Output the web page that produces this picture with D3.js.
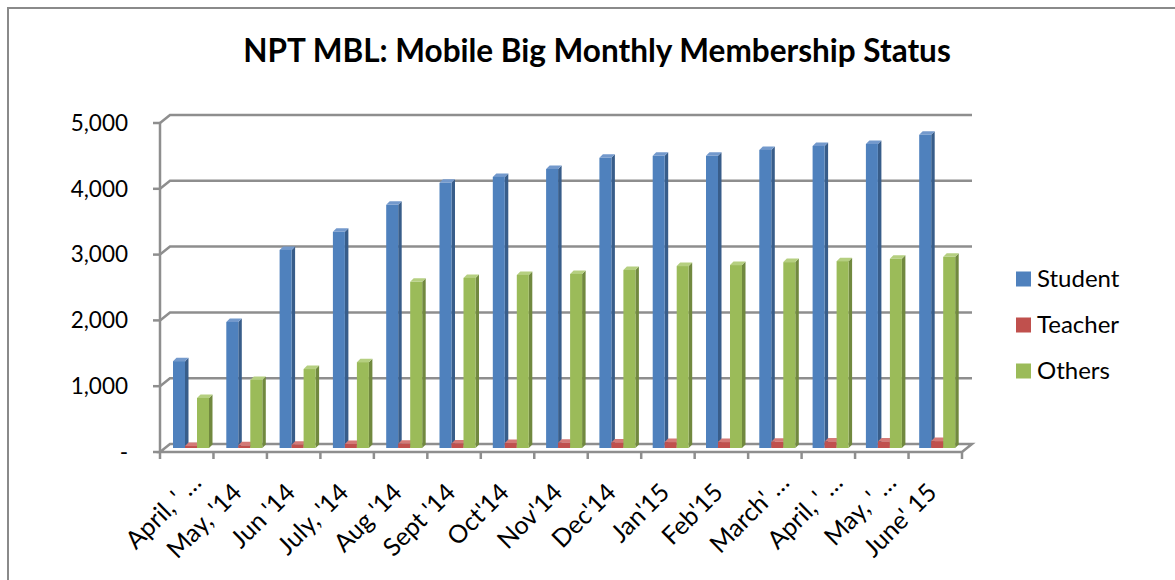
<!DOCTYPE html>
<html>
<head>
<meta charset="utf-8">
<script src="https://cdn.jsdelivr.net/npm/d3@7"></script>
<style>
  body { margin: 0; background: #fff; }
  svg text { font-family: Lato, "Open Sans", sans-serif; fill: #000; }
</style>
</head>
<body>
<svg id="chart" width="1175" height="580"></svg>
<script>
// data
var months = ["April, ' \u2026", "May, '14", "Jun '14", "July, '14", "Aug '14", "Sept '14", "Oct'14",
    "Nov'14", "Dec'14", "Jan'15", "Feb'15", "March' \u2026", "April, ' \u2026", "May, ' \u2026", "June' 15"];
var seriesNames = ["Student", "Teacher", "Others"];
var student = [1320, 1915, 3010, 3285, 3695, 4030, 4120, 4240, 4410, 4440, 4440, 4530, 4590, 4620, 4760];
var teacher = [30, 40, 50, 60, 65, 70, 75, 80, 85, 90, 90, 95, 100, 100, 105];
var others = [760, 1035, 1200, 1305, 2525, 2585, 2630, 2645, 2705, 2765, 2780, 2825, 2840, 2875, 2905];
var yTicks = [0, 1000, 2000, 3000, 4000, 5000];

var colours = {
    "Student": { front: "#4f81bd", side: "#385d8a", top: "#7399cc" },
    "Teacher": { front: "#c0504d", side: "#8c3836", top: "#d47a77" },
    "Others": { front: "#9bbb59", side: "#71893f", top: "#b5cf80" }
}
var values = { "Student": student, "Teacher": teacher, "Others": others };

var svg = d3.select("#chart");
var gridCol = "#8e8e8e";

// chart border
svg.append("rect")
    .attr("x", 8).attr("y", 8).attr("width", 1200).attr("height", 620)
    .attr("fill", "none").attr("stroke", "#8a8a8a").attr("stroke-width", 2);

// title
svg.append("text")
    .attr("x", 597).attr("y", 62)
    .attr("text-anchor", "middle")
    .style("font-weight", "bold").style("font-size", "31.5px")
    .text("NPT MBL: Mobile Big Monthly Membership Status");

// 3D offsets (depth of the walls)
var dx = 10, dy = -8;

// two months share the label "April, ' …" so the band scales work on indices
var idx = d3.range(months.length);
var x = d3.scaleBand().domain(idx).range([160, 962]);
var xBar = d3.scaleBand().domain(idx).range([159, 958.5]);
var xs = d3.scaleBand().domain(seriesNames).range([14, 50]);
var yFront = d3.scaleLinear().domain([0, 5000]).range([452, 123]);
var yBar = d3.scaleLinear().domain([0, 5000]).range([448, 119]);

// floor
var x0 = x.range()[0], x1 = x.range()[1];
svg.append("path")
    .attr("d", "M" + x0 + "," + yFront(0) + "L" + x1 + "," + yFront(0) +
        "L" + (x1 + dx) + "," + (yFront(0) + dy) + "L" + (x0 + dx) + "," + (yFront(0) + dy) + "Z")
    .attr("fill", "#fff").attr("stroke", gridCol).attr("stroke-width", 2.5);

// gridlines on back wall + side wall diagonals
yTicks.forEach(function (t) {
    var yf = yFront(t);
    if (t > 0) {
        svg.append("path")
            .attr("d", "M" + x0 + "," + yf + "L" + (x0 + dx) + "," + (yf + dy) + "L" + (x1 + dx) + "," + (yf + dy))
            .attr("fill", "none").attr("stroke", gridCol).attr("stroke-width", 2.5);
    }
    svg.append("line")
        .attr("x1", x0 - 7).attr("x2", x0).attr("y1", yf).attr("y2", yf)
        .attr("stroke", gridCol).attr("stroke-width", 2.5);
    svg.append("text")
        .attr("x", 128).attr("y", yf)
        .attr("dy", "0.35em")
        .attr("text-anchor", "end")
        .style("font-size", "22.5px")
        .text(t == 0 ? "-" : d3.format(",")(t));
});

// front vertical axis
svg.append("line")
    .attr("x1", x0).attr("x2", x0).attr("y1", yFront(5000)).attr("y2", yFront(0))
    .attr("stroke", gridCol).attr("stroke-width", 2.5);

// category ticks
var bounds = idx.map(function (i) { return x(i) }).concat([x1]);
svg.selectAll(".xtick")
    .data(bounds)
    .enter()
    .append("line")
    .attr("x1", function (d) { return d }).attr("x2", function (d) { return d })
    .attr("y1", yFront(0)).attr("y2", yFront(0) + 7)
    .attr("stroke", gridCol).attr("stroke-width", 2.5);

// bars, drawn as front + side + top faces
var bd = 3.5;
idx.forEach(function (i) {
    seriesNames.forEach(function (s) {
        var v = values[s][i];
        var bx = xBar(i) + xs(s), bw = xs.bandwidth();
        var yt = yBar(v), yb = yBar(0);
        var c = colours[s];
        svg.append("path")
            .attr("d", "M" + (bx + bw) + "," + yt + "L" + (bx + bw + bd) + "," + (yt - bd) +
                "L" + (bx + bw + bd) + "," + (yb - bd) + "L" + (bx + bw) + "," + yb + "Z")
            .attr("fill", c.side);
        svg.append("path")
            .attr("d", "M" + bx + "," + yt + "L" + (bx + bd) + "," + (yt - bd) +
                "L" + (bx + bw + bd) + "," + (yt - bd) + "L" + (bx + bw) + "," + yt + "Z")
            .attr("fill", c.top);
        svg.append("rect")
            .attr("x", bx).attr("y", yt).attr("width", bw).attr("height", yb - yt)
            .attr("fill", c.front);
    });
});

// category labels (the cut-off ones sit a little higher, like Excel does)
svg.selectAll(".xlabel")
    .data(idx)
    .enter()
    .append("text")
    .attr("text-anchor", "end")
    .style("font-size", "25px")
    .attr("transform", function (i) {
        var cut = months[i].indexOf("\u2026") >= 0;
        var lx = x(i) + x.bandwidth() / 2 + (cut ? 16 : 3);
        var ly = cut ? 484 : 494;
        return "translate(" + lx + "," + ly + ") rotate(-45)";
    })
    .text(function (i) { return months[i] });

// legend
var legend = svg.selectAll(".legend")
    .data(seriesNames)
    .enter()
    .append("g")
    .attr("transform", function (d, i) { return "translate(1016," + (279 + i * 46) + ")" });
legend.append("rect")
    .attr("x", 0).attr("y", -7.5).attr("width", 15).attr("height", 15)
    .attr("fill", function (d) { return colours[d].front });
legend.append("text")
    .attr("x", 21).attr("dy", "0.35em")
    .style("font-size", "24px")
    .text(function (d) { return d });
</script>
</body>
</html>
